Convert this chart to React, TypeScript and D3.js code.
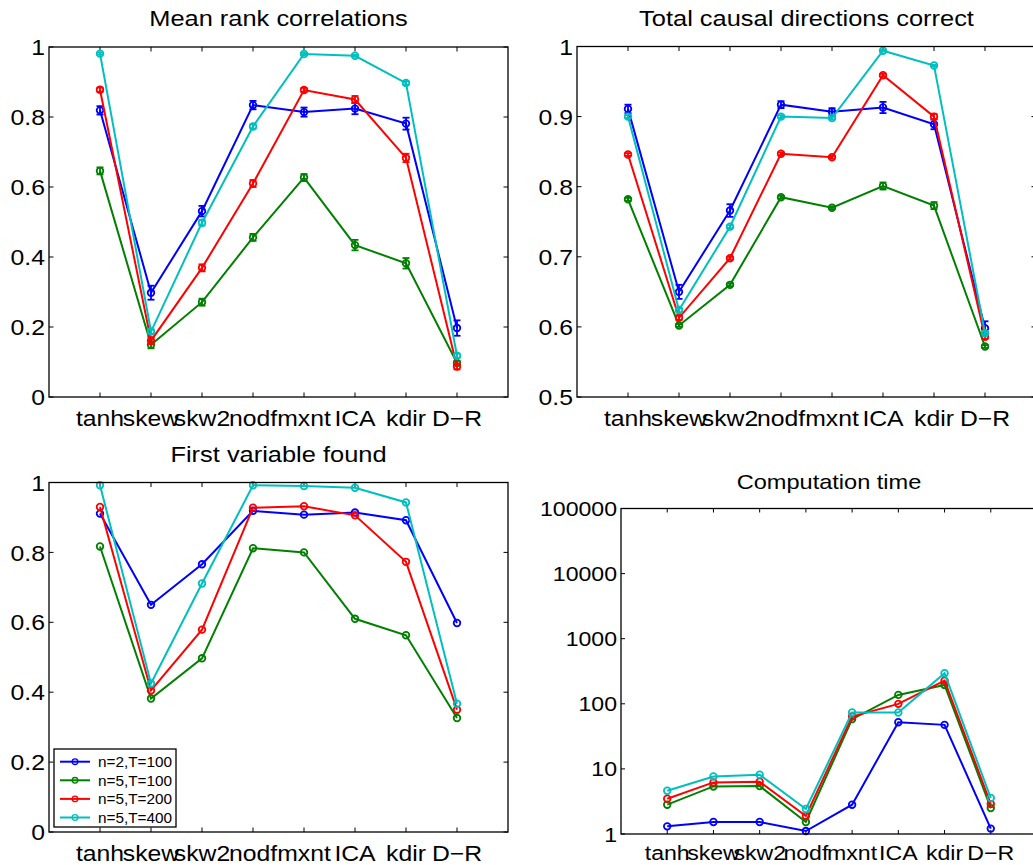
import React from 'react';
import * as d3 from 'd3';

const categories = ['tanh', 'skew', 'skw2', 'nodf', 'mxnt', 'ICA', 'kdir', 'D\u2212R'];
const seriesNames = ['n=2,T=100', 'n=5,T=100', 'n=5,T=200', 'n=5,T=400'];
const seriesColors = ['#0000ff', '#008000', '#ff0000', '#00bfbf'];

// Mean rank correlations
const rankN2T100 = [0.819, 0.298, 0.531, 0.834, 0.814, 0.824, 0.781, 0.197];
const rankN5T100 = [0.646, 0.149, 0.271, 0.456, 0.627, 0.434, 0.382, 0.097];
const rankN5T200 = [0.878, 0.161, 0.369, 0.610, 0.877, 0.850, 0.683, 0.087];
const rankN5T400 = [0.981, 0.187, 0.498, 0.773, 0.980, 0.975, 0.897, 0.118];
const rankErrN2T100 = [0.012, 0.02, 0.015, 0.012, 0.013, 0.016, 0.017, 0.022];
const rankErrN5T100 = [0.01, 0.01, 0.01, 0.01, 0.01, 0.015, 0.015, 0.006];
const rankErrN5T200 = [0.006, 0.01, 0.01, 0.01, 0.006, 0.01, 0.012, 0.008];
const rankErrN5T400 = [0.003, 0.006, 0.008, 0.006, 0.003, 0.003, 0.005, 0.006];

// Total causal directions correct
const causalN2T100 = [0.911, 0.650, 0.766, 0.917, 0.907, 0.913, 0.889, 0.598];
const causalN5T100 = [0.782, 0.602, 0.660, 0.785, 0.770, 0.801, 0.773, 0.572];
const causalN5T200 = [0.846, 0.613, 0.698, 0.847, 0.842, 0.959, 0.900, 0.586];
const causalN5T400 = [0.900, 0.624, 0.743, 0.900, 0.898, 0.994, 0.973, 0.591];
const causalErrN2T100 = [0.006, 0.01, 0.009, 0.005, 0.005, 0.008, 0.007, 0.01];
const causalErrN5T100 = [0.002, 0.002, 0.002, 0.002, 0.002, 0.005, 0.005, 0.002];
const causalErrN5T200 = [0.002, 0.003, 0.002, 0.002, 0.002, 0.002, 0.004, 0.003];
const causalErrN5T400 = [0.002, 0.003, 0.002, 0.002, 0.002, 0.001, 0.001, 0.002];

// First variable found
const firstN2T100 = [0.911, 0.650, 0.766, 0.919, 0.908, 0.914, 0.892, 0.598];
const firstN5T100 = [0.817, 0.382, 0.497, 0.812, 0.800, 0.610, 0.563, 0.326];
const firstN5T200 = [0.930, 0.405, 0.579, 0.928, 0.932, 0.906, 0.773, 0.350];
const firstN5T400 = [0.992, 0.425, 0.711, 0.992, 0.990, 0.985, 0.943, 0.367];

// Computation time
const timeN2T100 = [1.31, 1.53, 1.53, 1.11, 2.82, 52.2, 47.5, 1.21];
const timeN5T100 = [2.82, 5.38, 5.45, 1.53, 58.1, 137, 195, 2.50];
const timeN5T200 = [3.48, 6.20, 6.35, 1.89, 63.8, 99.8, 227, 2.88];
const timeN5T400 = [4.62, 7.66, 8.13, 2.42, 73.5, 73.5, 295, 3.57];

const rankTicks = [0, 0.2, 0.4, 0.6, 0.8, 1];
const causalTicks = [0.5, 0.6, 0.7, 0.8, 0.9, 1];
const firstTicks = [0, 0.2, 0.4, 0.6, 0.8, 1];
const timeTicks = [1, 10, 100, 1000, 10000, 100000];

const FONT = '"Liberation Sans", Arial, Helvetica, sans-serif';

function T(props: { x: number; y: number; size: number; sx?: number; anchor?: string; children: React.ReactNode }) {
  const sx = props.sx ?? 1.1;
  return (
    <text transform={`translate(${props.x},${props.y}) scale(${sx},1)`} textAnchor={props.anchor || 'start'}
      fontSize={props.size} fontFamily={FONT} fill="#000">{props.children}</text>
  );
}

type PanelProps = {
  left: number; top: number; width: number; height: number;
  title: string; titleY: number; titleSize: number; titleSx: number; tickSize: number; xLabelOff: number;
  log?: boolean; domain: [number, number]; ticks: number[];
  fmt: (v: number) => string;
  series: number[][]; errors?: number[][];
  legend?: boolean; tickLen: number;
};

function Panel(p: PanelProps) {
  const x = d3.scaleLinear().domain([0, 9]).range([p.left, p.left + p.width]);
  const y = p.log
    ? d3.scaleLog().domain(p.domain).range([p.top + p.height, p.top])
    : d3.scaleLinear().domain(p.domain).range([p.top + p.height, p.top]);
  const line = d3.line<number>().x((_, i) => x(i + 1)).y((v) => y(v));
  const right = p.left + p.width;
  const bottom = p.top + p.height;
  const tl = p.tickLen;
  return (
    <g>
      <T x={p.left + p.width / 2} y={p.titleY} size={p.titleSize} sx={p.titleSx} anchor="middle">{p.title}</T>
      {categories.map((c, i) => (
        <g key={'xt' + i}>
          <line x1={x(i + 1)} x2={x(i + 1)} y1={bottom} y2={bottom - tl} stroke="#000" strokeWidth={1} />
          <line x1={x(i + 1)} x2={x(i + 1)} y1={p.top} y2={p.top + tl} stroke="#000" strokeWidth={1} />
          <T x={x(i + 1)} y={bottom + p.xLabelOff} size={p.tickSize} anchor="middle">{c}</T>
        </g>
      ))}
      {p.ticks.map((t, i) => (
        <g key={'yt' + i}>
          <line x1={p.left} x2={p.left + tl} y1={y(t)} y2={y(t)} stroke="#000" strokeWidth={1} />
          <line x1={right} x2={right - tl} y1={y(t)} y2={y(t)} stroke="#000" strokeWidth={1} />
          <T x={p.left - 4} y={y(t) + p.tickSize * 0.36} size={p.tickSize} anchor="end">{p.fmt(t)}</T>
        </g>
      ))}
      {p.series.map((s, si) => (
        <g key={'s' + si}>
          <path d={line(s) || ''} fill="none" stroke={seriesColors[si]} strokeWidth={2} />
          {p.errors && s.map((v, i) => {
            const e = p.errors![si][i];
            const xx = x(i + 1);
            return (
              <g key={'e' + i} stroke={seriesColors[si]} strokeWidth={1.8}>
                <line x1={xx} x2={xx} y1={y(v - e)} y2={y(v + e)} />
                <line x1={xx - 3.5} x2={xx + 3.5} y1={y(v - e)} y2={y(v - e)} />
                <line x1={xx - 3.5} x2={xx + 3.5} y1={y(v + e)} y2={y(v + e)} />
              </g>
            );
          })}
          {s.map((v, i) => (
            <circle key={'m' + i} cx={x(i + 1)} cy={y(v)} r={3.3} fill="none" stroke={seriesColors[si]} strokeWidth={1.8} />
          ))}
        </g>
      ))}
      <rect x={p.left} y={p.top} width={p.width} height={p.height} fill="none" stroke="#000" strokeWidth={1.3} />
      {p.legend && (
        <g>
          <rect x={54} y={749} width={122} height={78} fill="#fff" stroke="#000" strokeWidth={1.3} />
          {seriesNames.map((n, i) => {
            const yy = 761.7 + i * 18.6;
            return (
              <g key={'lg' + i}>
                <line x1={60} x2={90} y1={yy} y2={yy} stroke={seriesColors[i]} strokeWidth={2} />
                <circle cx={75} cy={yy} r={2.8} fill="none" stroke={seriesColors[i]} strokeWidth={1.3} />
                <T x={98} y={yy + 5.2} size={14.2} sx={1.08}>{n}</T>
              </g>
            );
          })}
        </g>
      )}
    </g>
  );
}

export default function App() {
  const fmt = (v: number) => String(v);
  return (
    <svg width={1033} height={865} style={{ position: 'absolute', left: 0, top: 0, background: '#fff' }}>
      <rect x={0} y={0} width={1033} height={865} fill="#fff" />
      <Panel left={49} top={47} width={459} height={350} title="Mean rank correlations" titleY={26}
        titleSize={22.5} titleSx={1.13} tickSize={22.5} xLabelOff={28.7} domain={[0, 1]} ticks={rankTicks} fmt={fmt}
        series={[rankN2T100, rankN5T100, rankN5T200, rankN5T400]}
        errors={[rankErrN2T100, rankErrN5T100, rankErrN5T200, rankErrN5T400]} tickLen={4.5} />
      <Panel left={577} top={46.5} width={459} height={350.5} title="Total causal directions correct" titleY={26}
        titleSize={22.5} titleSx={1.13} tickSize={22.5} xLabelOff={28.7} domain={[0.5, 1]} ticks={causalTicks} fmt={fmt}
        series={[causalN2T100, causalN5T100, causalN5T200, causalN5T400]}
        errors={[causalErrN2T100, causalErrN5T100, causalErrN5T200, causalErrN5T400]} tickLen={4.5} />
      <Panel left={49} top={482.5} width={459} height={349.5} title="First variable found" titleY={461.5}
        titleSize={22.5} titleSx={1.13} tickSize={22.5} xLabelOff={28.7} domain={[0, 1]} ticks={firstTicks} fmt={fmt}
        series={[firstN2T100, firstN5T100, firstN5T200, firstN5T400]} legend tickLen={4.5} />
      <Panel left={621} top={508.5} width={416} height={325.5} title="Computation time" titleY={489}
        titleSize={20.5} titleSx={1.15} tickSize={21} xLabelOff={25.5} log domain={[1, 100000]} ticks={timeTicks} fmt={fmt}
        series={[timeN2T100, timeN5T100, timeN5T200, timeN5T400]} tickLen={4} />
    </svg>
  );
}
